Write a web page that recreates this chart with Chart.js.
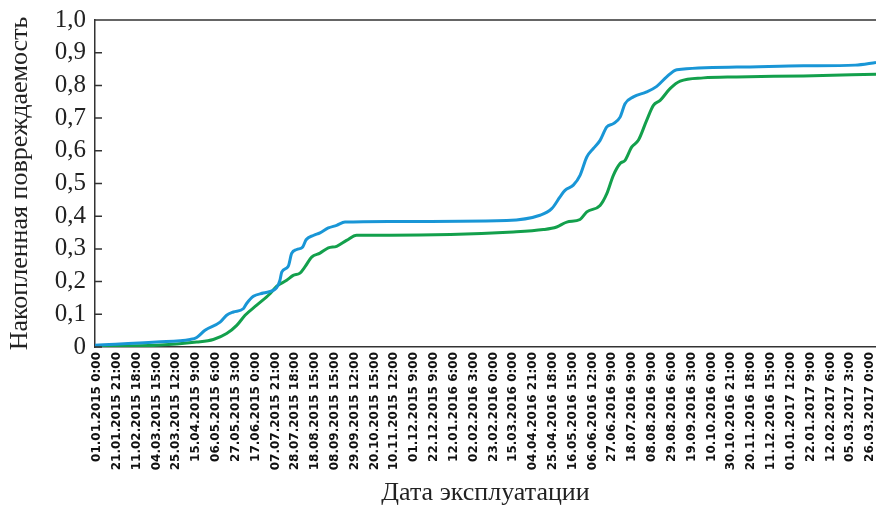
<!DOCTYPE html>
<html>
<head>
<meta charset="utf-8">
<script src="https://cdn.jsdelivr.net/npm/chart.js@4/dist/chart.umd.min.js"></script>
<style>
    body { margin: 0; background: #fff; }
</style>
</head>
<body>
<canvas id="damage-chart" width="876" height="506"></canvas>
<script>
// подписи оси X (шаг 501 ч)
const tickLabels = [
    '01.01.2015 0:00', '21.01.2015 21:00', '11.02.2015 18:00', '04.03.2015 15:00',
    '25.03.2015 12:00', '15.04.2015 9:00', '06.05.2015 6:00', '27.05.2015 3:00',
    '17.06.2015 0:00', '07.07.2015 21:00', '28.07.2015 18:00', '18.08.2015 15:00',
    '08.09.2015 15:00', '29.09.2015 12:00', '20.10.2015 15:00', '10.11.2015 12:00',
    '01.12.2015 9:00', '22.12.2015 9:00', '12.01.2016 6:00', '02.02.2016 3:00',
    '23.02.2016 0:00', '15.03.2016 0:00', '04.04.2016 21:00', '25.04.2016 18:00',
    '16.05.2016 15:00', '06.06.2016 12:00', '27.06.2016 9:00', '18.07.2016 9:00',
    '08.08.2016 9:00', '29.08.2016 6:00', '19.09.2016 3:00', '10.10.2016 0:00',
    '30.10.2016 21:00', '20.11.2016 18:00', '11.12.2016 15:00', '01.01.2017 12:00',
    '22.01.2017 9:00', '12.02.2017 6:00', '05.03.2017 3:00', '26.03.2017 0:00'
];

// положение по оси X в шагах подписи (0 = 01.01.2015)
const blueX = [-0.1, 3.0, 4.7, 5.03, 5.45, 6.21, 6.54, 6.88, 7.38, 7.55, 7.89, 8.39, 9.07, 9.23,
    9.32, 9.65, 9.82, 10.08, 10.38, 10.55, 10.91, 11.25, 11.67, 12.09, 12.51, 14.78, 20.67,
    22.35, 22.94, 23.36, 23.61, 24.03, 24.37, 24.71, 25.04, 25.38, 25.72, 26.05, 26.39, 26.64,
    27.06, 27.73, 28.24, 28.74, 29.25, 32.27, 35.64, 38.25, 39.3];
const blueY = [0.005, 0.015, 0.023, 0.029, 0.051, 0.076, 0.097, 0.107, 0.117, 0.133, 0.155, 0.165, 0.182, 0.204,
    0.229, 0.247, 0.286, 0.298, 0.306, 0.328, 0.341, 0.349, 0.364, 0.372, 0.382, 0.384, 0.387,
    0.403, 0.423, 0.459, 0.479, 0.495, 0.525, 0.581, 0.607, 0.632, 0.673, 0.683, 0.703, 0.744,
    0.765, 0.780, 0.797, 0.826, 0.848, 0.856, 0.860, 0.862, 0.870];

const greenX = [-0.1, 3.01, 5.03, 5.87, 6.54, 7.05, 7.47, 8.06, 8.73, 9.07, 9.57, 9.90, 10.24, 10.49,
    10.83, 11.25, 11.67, 12.09, 12.59, 13.10, 14.78, 21.0, 22.52, 23.19, 23.70, 24.37, 24.71,
    25.38, 25.72, 26.05, 26.39, 26.64, 26.98, 27.31, 27.73, 28.07, 28.41, 28.91, 29.42, 30.59,
    32.27, 35.64, 39.3];
const greenY = [0.002, 0.005, 0.015, 0.023, 0.041, 0.066, 0.097, 0.128, 0.163, 0.186, 0.204, 0.219, 0.226, 0.245,
    0.275, 0.287, 0.303, 0.308, 0.326, 0.342, 0.342, 0.352, 0.359, 0.367, 0.382, 0.390, 0.413,
    0.433, 0.469, 0.525, 0.561, 0.571, 0.612, 0.632, 0.693, 0.739, 0.754, 0.790, 0.813, 0.823,
    0.826, 0.829, 0.834];

const AXIS_COLOR = '#333';

function toPoints(xs, ys) {
    return xs.map((x, i) => ({ x: x, y: ys[i] }));
}

// рамка сверху и внутренние засечки оси Y
const frameAndTicks = {
    id: 'frameAndTicks',
    afterDraw(chart) {
        const ctx = chart.ctx;
        const area = chart.chartArea;
        const yScale = chart.scales.y;
        ctx.save();
        ctx.strokeStyle = AXIS_COLOR;
        ctx.lineWidth = 1.5;
        ctx.beginPath();
        ctx.moveTo(area.left, area.top);
        ctx.lineTo(area.right, area.top);
        yScale.ticks.forEach(t => {
            const y = yScale.getPixelForValue(t.value);
            ctx.moveTo(area.left, y);
            ctx.lineTo(area.left + 7, y);
        });
        ctx.stroke();
        ctx.restore();
    }
};

const ctx = document.getElementById('damage-chart').getContext('2d');
new Chart(ctx, {
    type: 'line',
    data: {
        datasets: [{
            data: toPoints(blueX, blueY),
            borderColor: '#1996d6',
            borderWidth: 3,
            pointRadius: 0,
            cubicInterpolationMode: 'monotone'
        }, {
            data: toPoints(greenX, greenY),
            borderColor: '#13a04c',
            borderWidth: 3,
            pointRadius: 0,
            cubicInterpolationMode: 'monotone'
        }]
    },
    options: {
        responsive: false,
        animation: false,
        layout: { padding: { top: 20, right: 0, left: 0, bottom: 0 } },
        plugins: {
            legend: { display: false },
            tooltip: { enabled: false }
        },
        scales: {
            x: {
                type: 'linear',
                min: -0.1,
                max: 39.3,
                afterBuildTicks: scale => {
                    scale.ticks = tickLabels.map((_, i) => ({ value: i }));
                },
                afterFit: scale => {
                    scale.height = 159;
                    scale.paddingLeft = 0;
                    scale.paddingRight = 0;
                },
                grid: { display: false, drawTicks: false },
                border: { color: AXIS_COLOR, width: 1.5 },
                ticks: {
                    autoSkip: false,
                    minRotation: 90,
                    maxRotation: 90,
                    padding: 5,
                    color: '#111',
                    font: { family: 'DejaVu Sans', weight: 'bold', size: 12 },
                    callback: value => tickLabels[value] ?? ''
                },
                title: {
                    display: true,
                    text: 'Дата эксплуатации',
                    color: '#222',
                    font: { family: 'Liberation Serif', size: 26, lineHeight: 1 },
                    padding: { top: 0, bottom: 0 }
                }
            },
            y: {
                min: 0,
                max: 1,
                afterFit: scale => {
                    scale.width = 95;
                    scale.paddingTop = 0;
                    scale.paddingBottom = 0;
                },
                grid: { display: false, drawTicks: false },
                border: { color: AXIS_COLOR, width: 1.5 },
                ticks: {
                    stepSize: 0.1,
                    autoSkip: false,
                    padding: 9,
                    color: '#222',
                    font: { family: 'Liberation Serif', size: 25 },
                    callback: value => value === 0 ? '0' : value.toFixed(1).replace('.', ',')
                },
                title: {
                    display: true,
                    text: 'Накопленная повреждаемость',
                    color: '#222',
                    font: { family: 'Liberation Serif', size: 26, lineHeight: 1 },
                    padding: { top: 7, bottom: 0 }
                }
            }
        }
    },
    plugins: [frameAndTicks]
});
</script>
</body>
</html>
